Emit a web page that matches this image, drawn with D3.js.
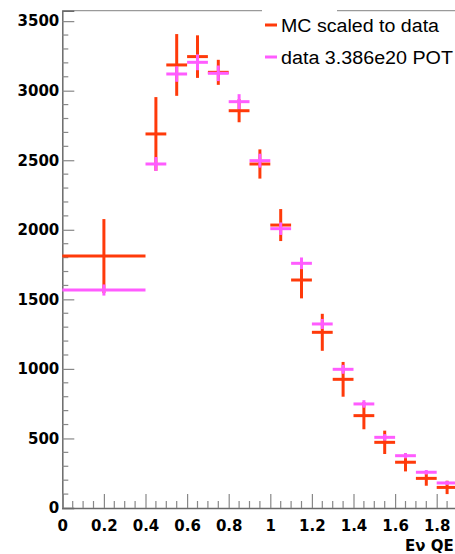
<!DOCTYPE html>
<html>
<head>
<meta charset="utf-8">
<script src="https://cdn.jsdelivr.net/npm/d3@7"></script>
<style>
  html, body { margin: 0; padding: 0; background: #fff; }
  svg { display: block; }
</style>
</head>
<body>
<svg id="chart" width="455" height="554"></svg>
<script>
// Bin edges (GeV) for the reconstructed neutrino energy
const binLow  = [0.0, 0.4, 0.5, 0.6, 0.7, 0.8, 0.9, 1.0, 1.1, 1.2, 1.3, 1.4, 1.5, 1.6, 1.7, 1.8];
const binHigh = [0.4, 0.5, 0.6, 0.7, 0.8, 0.9, 1.0, 1.1, 1.2, 1.3, 1.4, 1.5, 1.6, 1.7, 1.8, 1.9];

// Monte Carlo prediction scaled to data, with its uncertainty
const mcValues = [1811, 2689, 3185, 3245, 3132, 2856, 2473, 2034, 1639, 1263, 925, 664, 472, 329, 213, 148];
const mcErrors = [266, 265, 222, 153, 90, 83, 105, 115, 132, 133, 125, 98, 84, 66, 53, 48];

// Data events (3.386e20 POT) and statistical errors
const dataValues = [1567, 2473, 3120, 3204, 3125, 2921, 2497, 2008, 1759, 1323, 997, 748, 508, 376, 257, 180];
const dataErrors = [40, 50, 56, 57, 56, 54, 50, 45, 42, 36, 32, 27, 23, 19, 16, 13];

const xTickValues = [0, 0.2, 0.4, 0.6, 0.8, 1, 1.2, 1.4, 1.6, 1.8];
const yTickValues = [0, 500, 1000, 1500, 2000, 2500, 3000, 3500];
const legendLabels = ["MC scaled to data", "data 3.386e20 POT"];
const legendWidths = [158, 172];
const xTitle = "E\u03bd QE";

const mcColor = "#ff3a0a";
const dataColor = "#ff5cff";

const svg = d3.select("#chart");
const x = d3.scaleLinear().domain([0, 2]).range([62.3, 478.3]);
const y = d3.scaleLinear().domain([0, 3575]).range([508, 10.7]);

const labelFont = "'DejaVu Sans', sans-serif";

// Frame: top edge (interrupted above the legend) and left axis
const frame = svg.append("g").attr("stroke", "#9a9a9a").attr("stroke-width", 1.2);
frame.append("line").attr("x1", x(0)).attr("x2", 262).attr("y1", y(3575)).attr("y2", y(3575));
frame.append("line").attr("x1", 337).attr("x2", 455).attr("y1", y(3575)).attr("y2", y(3575));

// Y axis
const yAxis = d3.axisLeft(y).tickValues(yTickValues).tickSize(-12).tickPadding(3).tickFormat(d3.format("d"));
const gy = svg.append("g").attr("transform", `translate(${x(0)},0)`).call(yAxis);
gy.select(".domain").attr("stroke", "#6a6a6a").attr("stroke-width", 1.5);
gy.selectAll(".tick line").attr("stroke", "#888").attr("stroke-width", 1.2);
gy.selectAll(".tick text")
  .attr("x", -3)
  .attr("font-family", labelFont).attr("font-weight", "bold").attr("font-size", 15)
  .attr("fill", "#000");

const yMinor = d3.range(100, 3575, 100).filter(v => v % 500 !== 0);
svg.append("g").selectAll("line").data(yMinor).join("line")
  .attr("x1", x(0)).attr("x2", x(0) + 6)
  .attr("y1", d => y(d)).attr("y2", d => y(d))
  .attr("stroke", "#888").attr("stroke-width", 1.2);

// X axis
const xAxis = d3.axisBottom(x).tickValues(xTickValues).tickSize(-14).tickPadding(0)
  .tickFormat(d => d3.format("")(+d.toFixed(1)));
const gx = svg.append("g").attr("transform", `translate(0,${y(0)})`).call(xAxis);
gx.select(".domain").attr("stroke", "#6a6a6a").attr("stroke-width", 1.5);
gx.selectAll(".tick line").attr("stroke", "#888").attr("stroke-width", 1.2);
gx.selectAll(".tick text")
  .attr("y", 12)
  .attr("font-family", labelFont).attr("font-weight", "bold").attr("font-size", 15)
  .attr("fill", "#000");

const xMinor = d3.range(0.05, 2.0, 0.05).filter(v => Math.abs(v / 0.2 - Math.round(v / 0.2)) > 1e-6);
svg.append("g").selectAll("line").data(xMinor).join("line")
  .attr("x1", d => x(d)).attr("x2", d => x(d))
  .attr("y1", y(0)).attr("y2", y(0) - 7)
  .attr("stroke", "#888").attr("stroke-width", 1.2);

svg.append("text")
  .attr("x", 405).attr("y", 551)
  .attr("font-family", labelFont).attr("font-weight", "bold").attr("font-size", 15)
  .attr("fill", "#000")
  .text(xTitle);

// Error-bar crosses: horizontal bar spans the bin, vertical bar spans ±error
function drawSeries(values, errors, color) {
  const g = svg.append("g").attr("stroke", color).attr("stroke-width", 3).attr("stroke-linecap", "butt");
  values.forEach((v, i) => {
    const xc = (binLow[i] + binHigh[i]) / 2;
    g.append("line")
      .attr("x1", x(binLow[i])).attr("x2", x(binHigh[i]))
      .attr("y1", y(v)).attr("y2", y(v));
    g.append("line")
      .attr("x1", x(xc)).attr("x2", x(xc))
      .attr("y1", y(v + errors[i])).attr("y2", y(v - errors[i]));
  });
}
drawSeries(mcValues, mcErrors, mcColor);
drawSeries(dataValues, dataErrors, dataColor);

// Legend
const legend = svg.append("g");
[mcColor, dataColor].forEach((c, i) => {
  const ly = 25 + i * 32;
  legend.append("line")
    .attr("x1", 265).attr("x2", 277).attr("y1", ly).attr("y2", ly)
    .attr("stroke", c).attr("stroke-width", 3);
  legend.append("text")
    .attr("x", 281).attr("y", ly + 6.5)
    .attr("font-family", "'Liberation Sans', Arial, sans-serif").attr("font-size", 18)
    .attr("textLength", legendWidths[i]).attr("lengthAdjust", "spacingAndGlyphs")
    .attr("fill", "#000")
    .text(legendLabels[i]);
});
</script>
</body>
</html>
